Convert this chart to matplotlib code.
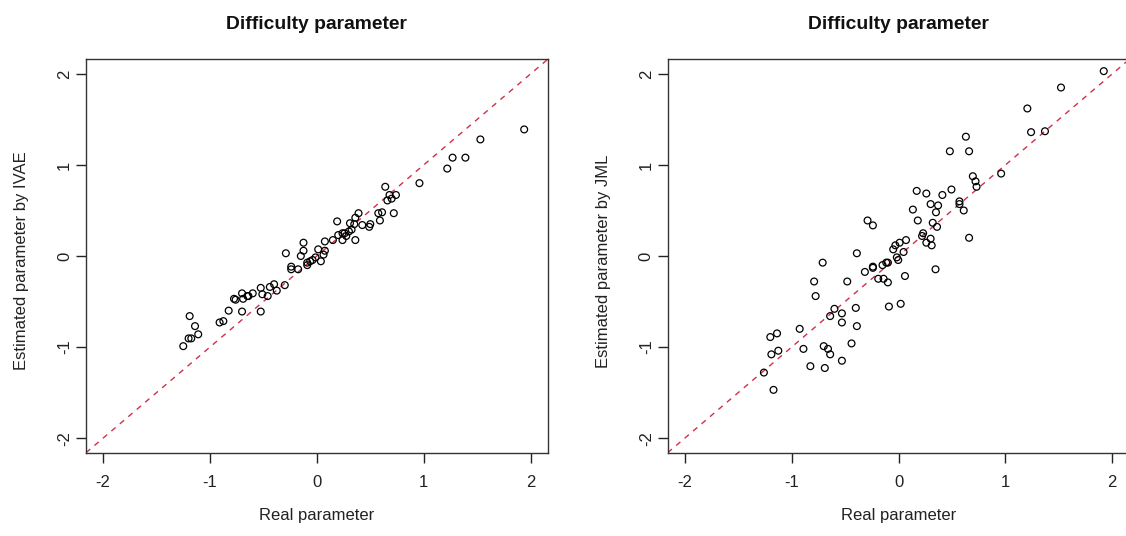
import matplotlib
matplotlib.use("Agg")
import matplotlib.pyplot as plt

plt.rcParams['font.family'] = ['Liberation Sans', 'DejaVu Sans']

# ---- data ----
real_ivae = [1.94, 1.53, 1.27, 1.39, 1.22, 0.96, 0.64, 0.68, 0.74, 0.70, 0.66, 0.72,
             0.575, 0.61, 0.59, 0.39, 0.36, 0.19, 0.425, 0.49, 0.50, 0.31, 0.35, 0.325,
             0.30, 0.20, 0.24, 0.26, 0.275, 0.24, 0.36, 0.15, 0.075, -0.125, -0.125,
             0.0125, 0.075, 0.0625, -0.15, -0.0125, -0.04, -0.0625, -0.09, 0.0375, -0.09,
             -0.29, -0.24, -0.24, -0.175, -0.30, -0.40, -0.375, -0.44, -0.46, -0.525,
             -0.51, -0.525, -0.60, -0.64, -0.65, -0.70, -0.69, -0.775, -0.76, -0.70,
             -0.825, -0.875, -0.91, -1.19, -1.14, -1.11, -1.20, -1.175, -1.25]
est_ivae = [1.39, 1.28, 1.08, 1.08, 0.96, 0.80, 0.76, 0.67, 0.67, 0.63, 0.61, 0.47,
            0.47, 0.48, 0.39, 0.47, 0.42, 0.38, 0.34, 0.32, 0.35, 0.36, 0.35, 0.29,
            0.27, 0.23, 0.25, 0.25, 0.22, 0.175, 0.175, 0.175, 0.16, 0.146, 0.058,
            0.073, 0.058, 0.015, 0.0, -0.015, -0.044, -0.058, -0.073, -0.058, -0.10,
            0.03, -0.117, -0.146, -0.146, -0.32, -0.31, -0.38, -0.34, -0.44, -0.35,
            -0.42, -0.61, -0.41, -0.44, -0.44, -0.41, -0.47, -0.47, -0.48, -0.61,
            -0.60, -0.715, -0.73, -0.66, -0.77, -0.86, -0.905, -0.905, -0.99]

real_jml = [1.92, 1.52, 1.205, 1.24, 1.37, 0.63, 0.48, 0.66, 0.96, 0.695, 0.72, 0.73,
            0.495, 0.17, 0.26, 0.41, 0.30, 0.37, 0.57, 0.57, 0.61, 0.35, 0.134, 0.18,
            0.32, 0.36, 0.66, 0.23, 0.22, 0.30, 0.26, 0.31, 0.07, 0.01, -0.03, -0.05,
            0.047, -0.016, -0.003, -0.10, -0.115, -0.15, -0.24, -0.24, -0.315, -0.39,
            -0.29, -0.24, -0.71, -0.19, -0.14, -0.10, 0.06, 0.346, -0.48, -0.79, -0.776,
            -0.09, 0.02, -0.40, -0.60, -0.64, -0.53, -0.53, -0.39, -0.925, -1.137, -1.20,
            -1.19, -1.125, -0.89, -0.70, -0.66, -0.64, -0.44, -0.53, -0.825, -0.69,
            -1.26, -1.17]
est_jml = [2.03, 1.85, 1.62, 1.36, 1.37, 1.31, 1.15, 1.15, 0.905, 0.876, 0.82, 0.76,
           0.73, 0.715, 0.686, 0.67, 0.57, 0.555, 0.60, 0.57, 0.50, 0.48, 0.51, 0.39,
           0.365, 0.32, 0.20, 0.25, 0.22, 0.19, 0.146, 0.117, 0.175, 0.146, 0.117, 0.073,
           0.044, -0.015, -0.044, -0.073, -0.073, -0.10, -0.117, -0.13, -0.175, 0.03,
           0.39, 0.336, -0.073, -0.25, -0.25, -0.29, -0.22, -0.146, -0.28, -0.28, -0.44,
           -0.555, -0.525, -0.57, -0.58, -0.66, -0.63, -0.73, -0.77, -0.80, -0.85, -0.89,
           -1.08, -1.04, -1.02, -0.99, -1.02, -1.08, -0.96, -1.15, -1.21, -1.23,
           -1.28, -1.47]

ticks = [-2, -1, 0, 1, 2]
tick_labels = ['-2', '-1', '0', '1', '2']
title = "Difficulty parameter"
xlabel = "Real parameter"
ylabels = ["Estimated parameter by IVAE", "Estimated parameter by JML"]

W, H = 1126, 536
fig = plt.figure(figsize=(W / 100, H / 100), dpi=100)

ax_w, ax_h = 461.7 / W, 393.4 / H
bottom = (H - 452.7) / H
lefts = [86 / W, 667.7 / W]
lim = (-2.16, 2.16)

panels = [(real_ivae, est_ivae), (real_jml, est_jml)]
for i, (xs, ys) in enumerate(panels):
    ax = fig.add_axes([lefts[i], bottom, ax_w, ax_h])
    ax.set_xlim(*lim)
    ax.set_ylim(*lim)
    ax.plot(lim, lim, linestyle=(0, (4, 4)), color='#d03048', linewidth=1.0, zorder=1)
    ax.scatter(xs, ys, s=24, facecolors='none', edgecolors='black', linewidths=0.9, zorder=2)
    ax.set_xticks(ticks)
    ax.set_xticklabels(tick_labels)
    ax.set_yticks(ticks)
    ax.set_yticklabels(tick_labels, rotation=90, va='center')
    ax.tick_params(direction='out', length=7, width=1, colors='#222222',
                   labelcolor='#222222', labelsize=12)
    ax.tick_params(axis='x', pad=9)
    ax.tick_params(axis='y', pad=3)
    for sp in ax.spines.values():
        sp.set_linewidth(1.0)
        sp.set_color('#333333')
    ax.set_title(title, fontsize=13.9, fontweight='bold', pad=21.5, color='#111111')
    ax.set_xlabel(xlabel, fontsize=12, labelpad=13, color='#222222')
    ax.set_ylabel(ylabels[i], fontsize=12, labelpad=20, color='#222222')
    ax.yaxis.label.set_y(0.487)

fig.savefig('out.png', dpi=100)
